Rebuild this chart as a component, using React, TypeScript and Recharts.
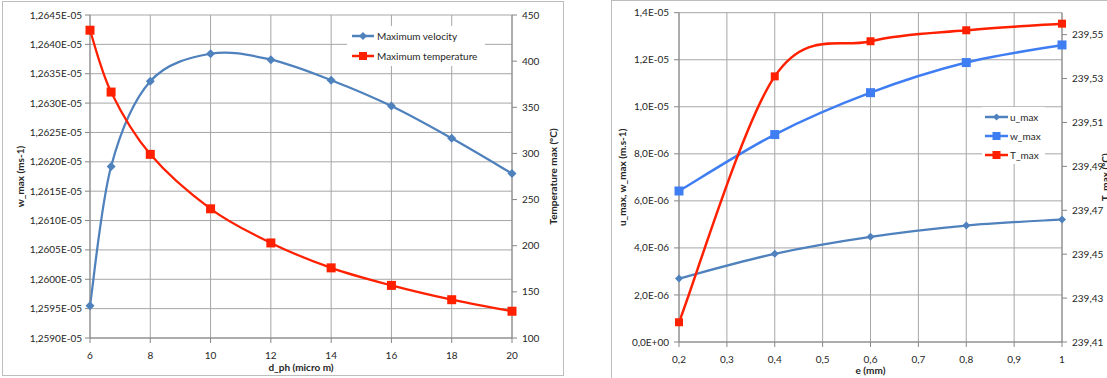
import { LineChart, Line, XAxis, YAxis, CartesianGrid, Legend } from 'recharts';

// left chart: influence of d_ph
const dPh = [6, 6.7, 8, 10, 12, 14, 16, 18, 20];
const maxVelocity = [1.25955e-5, 1.26192e-5, 1.26337e-5, 1.26384e-5, 1.26374e-5, 1.26339e-5, 1.26295e-5, 1.2624e-5, 1.2618e-5];
const maxTemperature = [433.5, 366.5, 299, 240, 203, 176, 157, 141.5, 129];
const dPhTicks = [6, 8, 10, 12, 14, 16, 18, 20];
const velocityTicks = [
  1.259e-5, 1.2595e-5, 1.26e-5, 1.2605e-5, 1.261e-5, 1.2615e-5,
  1.262e-5, 1.2625e-5, 1.263e-5, 1.2635e-5, 1.264e-5, 1.2645e-5
];
const temperatureTicks = [100, 150, 200, 250, 300, 350, 400, 450];

// right chart: influence of e
const thickness = [0.2, 0.4, 0.6, 0.8, 1];
const uMax = [2.7e-6, 3.75e-6, 4.47e-6, 4.95e-6, 5.21e-6];
const wMax = [6.42e-6, 8.82e-6, 1.06e-5, 1.188e-5, 1.263e-5];
const tMax = [239.419, 239.531, 239.547, 239.552, 239.555];
const thicknessTicks = [0.2, 0.3, 0.4, 0.5, 0.6, 0.7, 0.8, 0.9, 1];
const speedTicks = [0, 2e-6, 4e-6, 6e-6, 8e-6, 1e-5, 1.2e-5, 1.4e-5];
const tMaxTicks = [239.41, 239.43, 239.45, 239.47, 239.49, 239.51, 239.53, 239.55];

// legend order, as in the drawing
const legendOrder = ['velocity', 'temperature', 'u', 'w', 't'];

const leftData = dPh.map((x, i) => ({ x, velocity: maxVelocity[i], temperature: maxTemperature[i] }));
const rightData = thickness.map((x, i) => ({ x, u: uMax[i], w: wMax[i], t: tMax[i] }));

const AXIS = '#868686';
const GRID = '#A6A6A6';
const TEXT = '#262626';
const STEEL = '#4F81BD';
const BLUE = '#3F7EF2';
const RED = '#FF2000';

// Excel-like smoothed line (bezier through the points, handles at 1/6)
const excelCurve = (context: any) => {
  let pts: number[][] = [];
  return {
    areaStart() {},
    areaEnd() {},
    lineStart() {
      pts = [];
    },
    point(x: number, y: number) {
      pts.push([+x, +y]);
    },
    lineEnd() {
      const n = pts.length;
      if (!n) return;
      context.moveTo(pts[0][0], pts[0][1]);
      for (let i = 0; i < n - 1; i++) {
        const p0 = pts[Math.max(i - 1, 0)];
        const p1 = pts[i];
        const p2 = pts[i + 1];
        const p3 = pts[Math.min(i + 2, n - 1)];
        context.bezierCurveTo(
          p1[0] + (p2[0] - p0[0]) / 6,
          p1[1] + (p2[1] - p0[1]) / 6,
          p2[0] - (p3[0] - p1[0]) / 6,
          p2[1] - (p3[1] - p1[1]) / 6,
          p2[0],
          p2[1]
        );
      }
    }
  };
};

type Shape = 'diamond' | 'square';

const markerPath = (shape: Shape, cx: number, cy: number, size: number) => {
  const h = size / 2;
  if (shape === 'square') return `M${cx - h},${cy - h}h${size}v${size}h${-size}Z`;
  return `M${cx},${cy - h}L${cx + h},${cy}L${cx},${cy + h}L${cx - h},${cy}Z`;
};

const makeDot = (shape: Shape, size: number, color: string) => (props: any) => {
  const { cx, cy, index } = props;
  if (cx == null || cy == null) return <g key={`m-${index}`} />;
  return <path key={`m-${index}`} d={markerPath(shape, cx, cy, size)} fill={color} />;
};

const markers: Record<string, { shape: Shape; size: number }> = {
  velocity: { shape: 'diamond', size: 8 },
  temperature: { shape: 'square', size: 8 },
  u: { shape: 'diamond', size: 7 },
  w: { shape: 'square', size: 8 },
  t: { shape: 'square', size: 8 }
};

const legendContent = (rowHeight: number, iconWidth: number, gap: number, pad: number) => (props: any) => {
  const items = [...(props.payload || [])].sort(
    (a: any, b: any) => legendOrder.indexOf(a.dataKey) - legendOrder.indexOf(b.dataKey)
  );
  return (
    <div style={{ background: '#fff', padding: `0 0 0 ${pad}px`, height: '100%', boxSizing: 'border-box' }}>
      {items.map((entry: any) => {
        const m = markers[entry.dataKey] || { shape: 'square', size: 7 };
        return (
          <div key={entry.value} style={{ display: 'flex', alignItems: 'center', height: rowHeight }}>
            <svg width={iconWidth} height={10} style={{ display: 'block' }}>
              <line x1={0} y1={5} x2={iconWidth} y2={5} stroke={entry.color} strokeWidth={2.5} />
              <path d={markerPath(m.shape, iconWidth / 2, 5, m.size)} fill={entry.color} />
            </svg>
            <span style={{ marginLeft: gap, fontSize: 10, color: TEXT, whiteSpace: 'nowrap' }}>{entry.value}</span>
          </div>
        );
      })}
    </div>
  );
};

const yTitle = (text: string, dx: number) => ({
  content: (p: any) => {
    const vb = p.viewBox || {};
    const cx = (vb.x ?? 0) + dx;
    const cy = (vb.y ?? 0) + (vb.height ?? 0) / 2;
    return (
      <text x={cx} y={cy} transform={`rotate(-90 ${cx} ${cy})`} textAnchor="middle" dominantBaseline="central"
        fontSize={10} fontWeight={700} fill={TEXT}>
        {text}
      </text>
    );
  }
});

const xTitle = (text: string, dy: number) => ({
  content: (p: any) => {
    const vb = p.viewBox || {};
    const cx = (vb.x ?? 0) + (vb.width ?? 0) / 2;
    const cy = (vb.y ?? 0) + dy;
    return (
      <text x={cx} y={cy} textAnchor="middle" dominantBaseline="central" fontSize={10} fontWeight={700} fill={TEXT}>
        {text}
      </text>
    );
  }
});

const fmtVelocity = (v: number) => (v * 1e5).toFixed(4).replace('.', ',') + 'E-05';
const fmtSpeed = (v: number) => {
  const [m, e] = v.toExponential(1).split('e');
  return `${m.replace('.', ',')}E${e[0]}${e.slice(1).padStart(2, '0')}`;
};
const fmtComma = (v: number) => String(v).replace('.', ',');

const tickStyle = { fontSize: 10, fill: TEXT };

export default function App() {
  return (
    <div style={{
      position: 'absolute', left: 0, top: 0, width: 1107, height: 378, overflow: 'hidden',
      background: '#fff', fontFamily: 'Lato, "Open Sans", sans-serif'
    }}>
      <div style={{ position: 'absolute', left: 2, top: 1, width: 560, height: 373, border: '1px solid #BDBDBD' }}>
        <LineChart width={560} height={373} data={leftData} margin={{ top: 13, right: 0, bottom: 16, left: 0 }}>
          <CartesianGrid yAxisId="w" stroke={GRID} />
          <XAxis type="number" dataKey="x" domain={[6, 20]} ticks={dPhTicks}
            height={21} tickSize={5} tickMargin={9} stroke={AXIS} tick={tickStyle}
            label={xTitle('d_ph (micro m)', 28.5)} />
          <YAxis yAxisId="w" domain={[1.259e-5, 1.2645e-5]} ticks={velocityTicks}
            tickFormatter={fmtVelocity} width={87} tickSize={5} tickMargin={3} stroke={AXIS} tick={tickStyle}
            label={yTitle('w_max (ms-1)', 17)} />
          <YAxis yAxisId="t" orientation="right" domain={[100, 450]} ticks={temperatureTicks}
            width={51} tickSize={5} tickMargin={5} stroke={AXIS} tick={tickStyle}
            label={yTitle('Temperature max (°C)', 41)} />
          <Legend layout="horizontal" verticalAlign="middle" align="center"
            wrapperStyle={{ left: 344, top: 24, width: 138, height: 40 }}
            content={legendContent(20, 22, 3, 5)} />
          <Line yAxisId="w" dataKey="velocity" name="Maximum velocity" type={excelCurve as any}
            stroke={STEEL} strokeWidth={2.25} dot={makeDot('diamond', 9, STEEL)} activeDot={false}
            isAnimationActive={false} />
          <Line yAxisId="t" dataKey="temperature" name="Maximum temperature" type={excelCurve as any}
            stroke={RED} strokeWidth={2.25} dot={makeDot('square', 9, RED)} activeDot={false}
            isAnimationActive={false} />
        </LineChart>
      </div>

      <div style={{ position: 'absolute', left: 611, top: 0, width: 500, height: 377, border: '1px solid #BDBDBD' }}>
        <LineChart width={500} height={377} data={rightData} margin={{ top: 11.7, right: 0, bottom: 16, left: 0 }}>
          <CartesianGrid yAxisId="s" stroke={GRID} />
          <XAxis type="number" dataKey="x" domain={[0.2, 1]} ticks={thicknessTicks}
            tickFormatter={fmtComma} height={20} tickSize={5} tickMargin={9} stroke={AXIS} tick={tickStyle}
            label={xTitle('e (mm)', 28)} />
          <YAxis yAxisId="s" domain={[0, 1.4e-5]} ticks={speedTicks}
            tickFormatter={fmtSpeed} width={67} tickSize={5} tickMargin={5} stroke={AXIS} tick={tickStyle}
            label={yTitle('u_max, w_max (m.s-1)', 10)} />
          <YAxis yAxisId="tm" orientation="right" domain={[239.41, 239.56]} ticks={tMaxTicks}
            tickFormatter={(v: number) => v.toFixed(2).replace('.', ',')} width={50} tickSize={5} tickMargin={5}
            stroke={AXIS} tick={tickStyle} label={yTitle('T_max (°C)', 43)} />
          <Legend layout="horizontal" verticalAlign="middle" align="center"
            wrapperStyle={{ left: 370, top: 106, width: 63, height: 57 }}
            content={legendContent(19, 23, 2, 3)} />
          <Line yAxisId="s" dataKey="u" name="u_max" type={excelCurve as any} stroke={STEEL} strokeWidth={2.25}
            dot={makeDot('diamond', 8, STEEL)} activeDot={false} isAnimationActive={false} />
          <Line yAxisId="s" dataKey="w" name="w_max" type={excelCurve as any} stroke={BLUE} strokeWidth={2.5}
            dot={makeDot('square', 9, BLUE)} activeDot={false} isAnimationActive={false} />
          <Line yAxisId="tm" dataKey="t" name="T_max" type={excelCurve as any} stroke={RED} strokeWidth={2.5}
            dot={makeDot('square', 8, RED)} activeDot={false} isAnimationActive={false} />
        </LineChart>
      </div>
    </div>
  );
}
